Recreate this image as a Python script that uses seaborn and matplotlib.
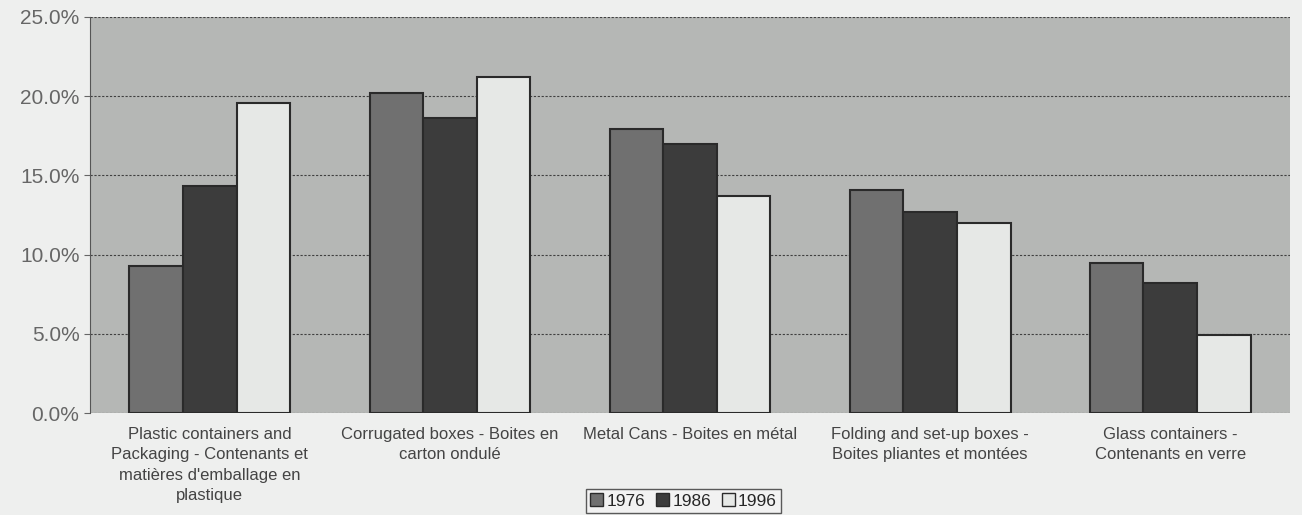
import numpy as np
import pandas as pd
import matplotlib.pyplot as plt
import seaborn as sns
from matplotlib.ticker import FuncFormatter

categories = [
    "Plastic containers and\nPackaging - Contenants et\nmatières d'emballage en\nplastique",
    "Corrugated boxes - Boites en\ncarton ondulé",
    "Metal Cans - Boites en métal",
    "Folding and set-up boxes -\nBoites pliantes et montées",
    "Glass containers -\nContenants en verre",
]
years = ["1976", "1986", "1996"]
share_1976 = [9.3, 20.2, 17.9, 14.1, 9.5]
share_1986 = [14.3, 18.6, 17.0, 12.7, 8.2]
share_1996 = [19.6, 21.2, 13.7, 12.0, 4.9]


def build_frame():
    """Long-form table for seaborn."""
    rows = []
    for year, values in zip(years, [share_1976, share_1986, share_1996]):
        for cat, v in zip(categories, values):
            rows.append({"category": cat, "year": year, "share": v})
    return pd.DataFrame(rows)


def main():
    sns.set_style("white")
    plt.rcParams['font.family'] = ['Liberation Sans', 'DejaVu Sans']

    df = build_frame()
    palette = {"1976": "#707070", "1986": "#3c3c3c", "1996": "#e6e8e6"}

    fig = plt.figure(figsize=(13.02, 5.15), dpi=100)
    fig.patch.set_facecolor("#eeefee")
    ax = fig.add_axes([0.069, 0.198, 0.922, 0.769])
    ax.set_facecolor("#b5b7b5")

    sns.barplot(data=df, x="category", y="share", hue="year", order=categories,
                hue_order=years, palette=palette, width=0.67, edgecolor="#2a2a2a",
                linewidth=1.5, saturation=1, ax=ax, legend=False)

    ax.set_ylim(0, 25)
    ax.set_yticks(np.arange(0, 26, 5))
    ax.yaxis.set_major_formatter(FuncFormatter(lambda v, _: f"{v:.1f}%"))
    ax.set_xlim(-0.5, len(categories) - 0.5)
    ax.grid(axis="y", color="#404040", linestyle=(0, (2, 1.5)), linewidth=0.8)
    ax.set_axisbelow(True)

    for side in ["top", "right", "bottom"]:
        ax.spines[side].set_visible(False)
    ax.spines["left"].set_color("#555555")

    ax.tick_params(axis="y", labelsize=15, colors="#666666", length=4, left=True)
    ax.tick_params(axis="x", length=0, pad=10)
    ax.set_xticks(range(len(categories)))
    ax.set_xticklabels(categories, fontsize=12, color="#444444", linespacing=1.45)
    ax.set_xlabel("")
    ax.set_ylabel("")

    handles = [plt.Rectangle((0, 0), 1, 1, facecolor=palette[y], edgecolor="#2a2a2a")
               for y in years]
    leg = fig.legend(handles, years, loc="center", bbox_to_anchor=(0.525, 0.027),
                     ncol=3, fontsize=12.5, frameon=True, fancybox=False,
                     handlelength=0.75, handleheight=0.75, handletextpad=0.2,
                     columnspacing=0.6, borderpad=0.25)
    leg.get_frame().set_edgecolor("#333333")
    leg.get_frame().set_facecolor("#f4f4f4")

    fig.savefig("out.png", dpi=100, facecolor=fig.get_facecolor())


if __name__ == "__main__":
    main()
